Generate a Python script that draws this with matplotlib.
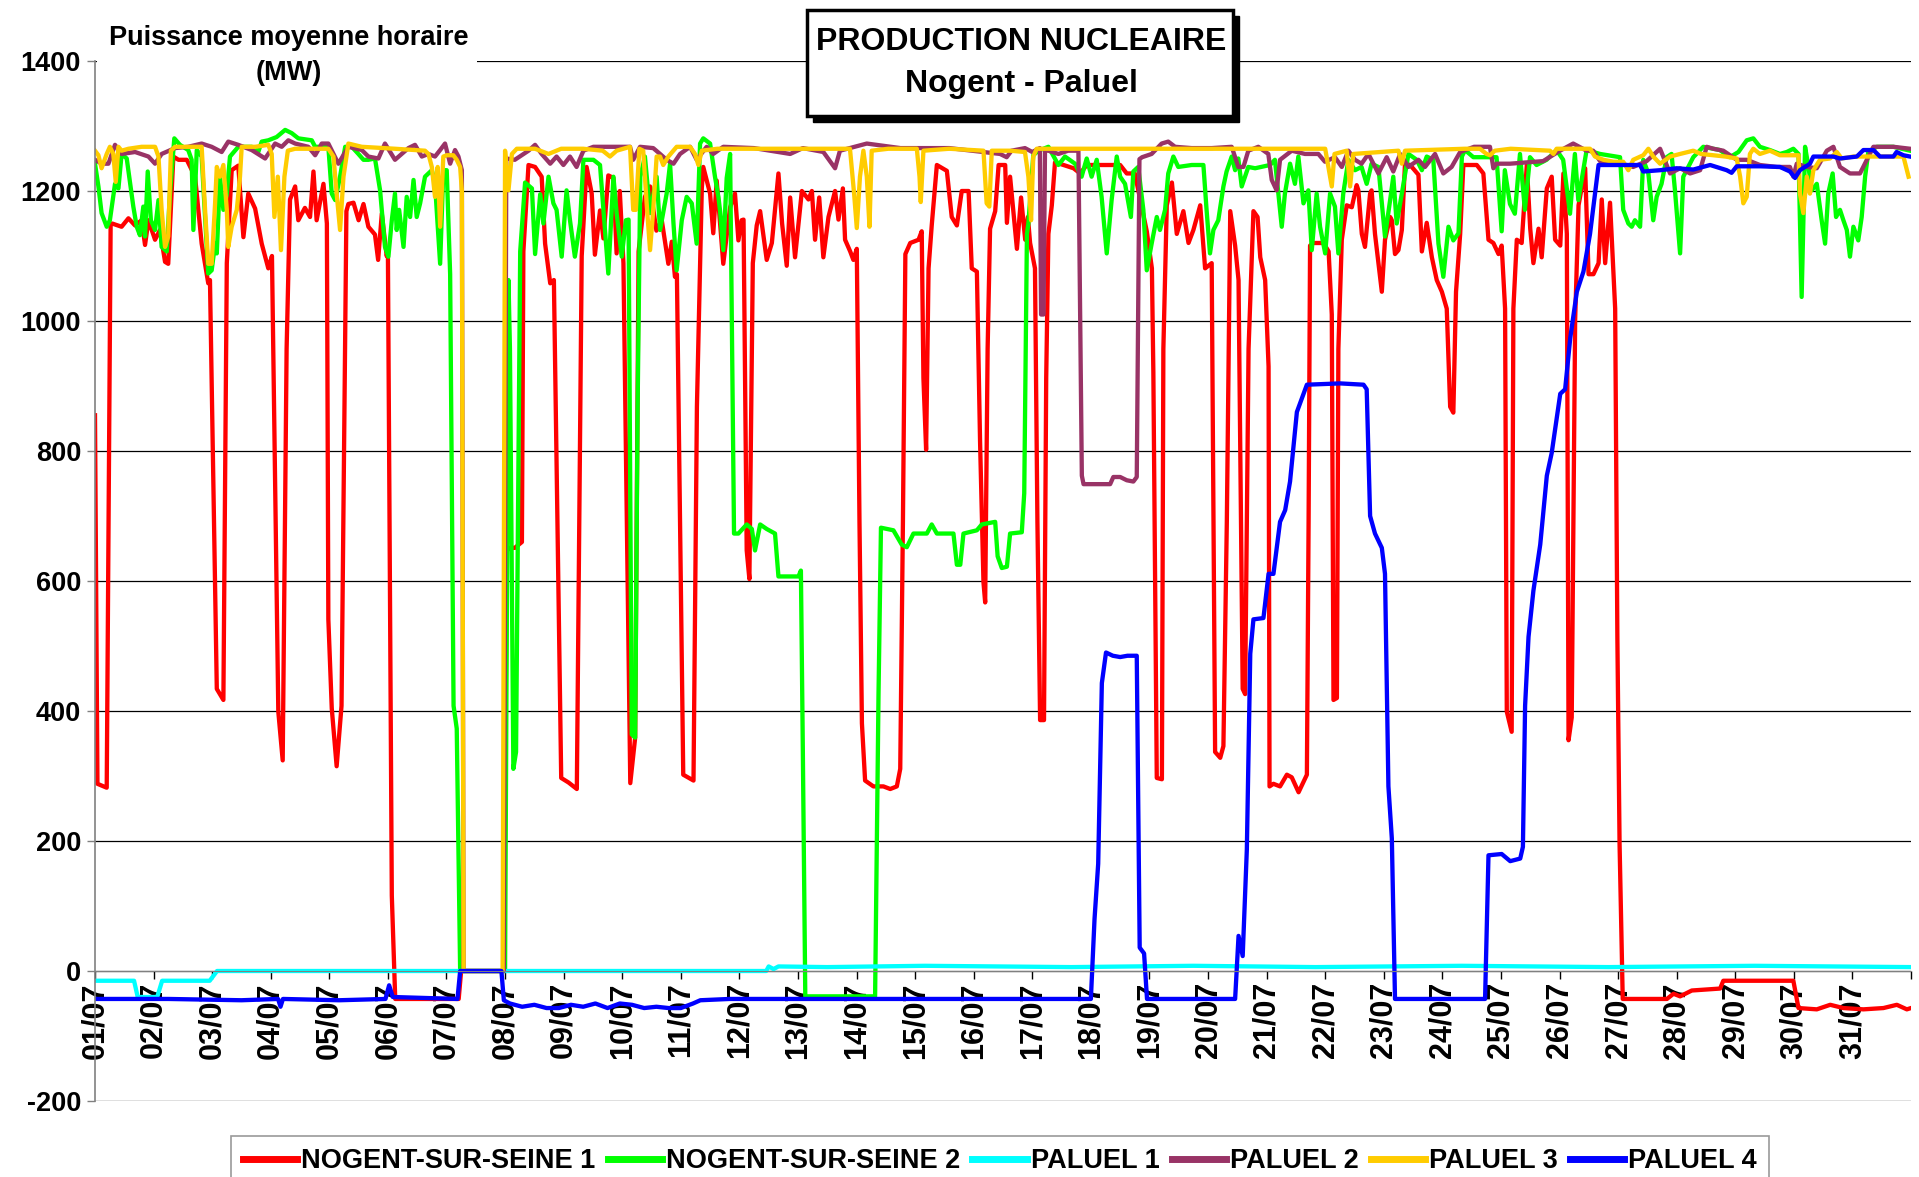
import matplotlib
matplotlib.use("Agg")
import matplotlib.pyplot as plt
from matplotlib.patches import Rectangle
from matplotlib.lines import Line2D

plt.rcParams['font.family'] = ['Liberation Sans', 'DejaVu Sans']
plt.rcParams['font.weight'] = 'bold'

# ---------------- data (hour of month, MW) ----------------
day_labels = ["%02d/07" % d for d in range(1, 32)]
series_names = ["NOGENT-SUR-SEINE 1", "NOGENT-SUR-SEINE 2", "PALUEL 1",
                "PALUEL 2", "PALUEL 3", "PALUEL 4"]
series_colors = ["#FF0000", "#00FF00", "#00FFFF", "#993366", "#FFCC00", "#0000FF"]

n1 = [(0,855),(1,288),(4.8,282),(6.4,1147),(7,1150),(10.9,1145),(13.7,1158),(16.4,1147),(19.1,1155),(20.5,1117),(21.9,1155),(24.6,1125),(26.6,1140),(28.7,1091),(30,1088),(32.1,1253),(34.2,1248),(37.6,1248),(41,1222),(43.7,1119),(46.4,1058),(47.1,1063),(49.9,434),(52.6,417),(54,1089),(56,1232),(58.7,1239),(60.8,1129),(62.8,1196),(65.6,1173),(68.3,1119),(71,1081),(72.5,1100),(75.1,399),(76.9,324),(78.5,957),(79.9,1187),(82,1207),(83.3,1155),(86,1174),(88.1,1160),(89.5,1230),(90.8,1155),(93.6,1211),(95,1150),(95.6,541),(97,404),(99,315),(101,408),(103,1169),(103.8,1180),(105.9,1182),(108,1155),(110,1180),(112,1145),(114.7,1133),(116,1094),(117.5,1165),(119.5,1100),(120,1107),(121.6,116),(123,-43),(149,-43),(150,0),(167.5,0),(168.7,647),(170,651),(172,651),(174.9,660),(175.5,1107),(177.6,1240),(180.3,1237),(183,1222),(184.4,1119),(186.5,1058),(188,1063),(191,297),(194,290),(197.4,280),(199.4,1100),(201.4,1237),(203.5,1196),(204.8,1102),(206.9,1170),(208.3,1127),(210.3,1224),(212.4,1220),(213.7,1104),(215,1200),(216.5,1089),(219.3,289),(221.3,359),(222.7,1107),(225.3,1191),(227.4,1207),(230,1139),(232.2,1155),(234.9,1088),(236.3,1122),(237.6,1068),(238.4,1072),(241,302),(245.2,293),(246.6,868),(248.6,1204),(249.2,1237),(252,1196),(253.3,1135),(254.7,1216),(257.4,1088),(260.2,1175),(262.2,1196),(263.6,1124),(264.9,1155),(265.7,1156),(267,647),(268.1,603),(269.5,1089),(271.1,1147),(272.5,1169),(275.2,1094),(277.3,1120),(280,1227),(281.5,1150),(283.4,1085),(284.8,1190),(286.8,1098),(289.6,1200),(292.3,1187),(293.7,1200),(295,1125),(296.7,1190),(298.4,1098),(300.5,1160),(303.2,1200),(304.6,1156),(306.4,1204),(307.3,1125),(309.4,1107),(310.7,1094),(312.1,1111),(313.2,691),(314.2,381),(315.5,293),(318.9,284),(323,284),(325.8,280),(328.5,284),(329.9,311),(331,691),(332,1103),(334,1120),(337.4,1125),(338.7,1138),(339.4,912),(340.5,802),(341.5,1081),(342.8,1147),(344.9,1240),(349,1231),(351,1160),(353.1,1147),(355.1,1200),(357.9,1200),(359.2,1081),(361.3,1076),(362.6,815),(364,598),(364.7,567),(365.7,957),(366.7,1142),(368.8,1169),(370.2,1240),(372.9,1240),(373.6,1151),(374.9,1222),(377.7,1111),(379.4,1190),(381.1,1125),(382.2,1160),(383.1,1120),(385.1,1081),(386.1,691),(387.2,386),(388.8,386),(389.7,912),(390.6,1134),(392,1178),(393.3,1244),(396.8,1240),(400.9,1235),(403.6,1227),(406.3,1240),(420,1240),(422.7,1227),(426,1227),(430.9,1138),(433,1081),(433.6,921),(435,297),(437.1,295),(437.7,957),(439.1,1178),(441.2,1213),(443.2,1134),(445.9,1169),(448,1120),(450,1140),(452.8,1178),(454.8,1081),(457.5,1089),(458.9,337),(461,328),(462.3,346),(463.7,691),(465.1,1169),(467.1,1116),(468.5,1063),(470.2,434),(471.2,426),(472.6,957),(474.6,1169),(476.3,1160),(477.4,1098),(479.4,1063),(480.8,930),(481.2,284),(482.8,288),(485.5,284),(488.3,302),(490.3,298),(493.1,275),(496.5,302),(497.2,691),(497.8,1116),(499.2,1120),(503.3,1120),(505.4,1107),(506.7,1010),(507.4,417),(508.8,420),(509.4,957),(510.8,1125),(512.8,1178),(514.9,1175),(516.9,1209),(517.6,1201),(519,1134),(520.3,1114),(522.4,1196),(523,1201),(524.4,1134),(527.2,1045),(528.5,1125),(530.6,1160),(531.3,1155),(532.6,1103),(534,1109),(535.4,1140),(536.7,1242),(538.8,1240),(542.2,1225),(543.6,1107),(545.6,1151),(547.7,1098),(549.7,1063),(551.8,1045),(553.8,1019),(555.2,868),(556.5,859),(557.6,1045),(559.3,1134),(560.6,1240),(566.1,1240),(568.8,1227),(570.9,1125),(572.9,1120),(575,1103),(576.3,1116),(577.7,1019),(578.4,399),(580.4,368),(581.1,1019),(582.5,1125),(584.5,1120),(586.6,1240),(588,1142),(589.3,1089),(591.4,1142),(592.7,1098),(594.8,1204),(596.8,1222),(598.2,1125),(600.3,1116),(601.6,1227),(603,1134),(603.7,355),(605,390),(606.4,1001),(607.8,1178),(610.5,1235),(611.9,1072),(613.9,1072),(616,1089),(617.3,1187),(618.7,1089),(620.7,1182),(622.8,1019),(623.7,514),(624.6,196),(625.9,-43),(644,-43),(646.7,-35),(649.4,-39),(654.2,-30),(665.8,-27),(667.1,-15),(695.8,-15),(697.9,-57),(705.4,-59),(710.9,-52),(716.3,-57),(724.5,-59),(732.7,-57),(738.2,-52),(742.3,-59),(744,-57)]

n2 = [(0,1242),(1.4,1207),(2.7,1166),(4.8,1145),(6.1,1155),(8.2,1211),(9.6,1204),(10.9,1257),(13,1250),(15.7,1176),(17.1,1145),(18.4,1132),(19.8,1176),(20.5,1130),(21.6,1230),(22.9,1155),(24.6,1140),(26,1186),(27.3,1114),(29.4,1107),(30.7,1196),(32.5,1281),(34.8,1271),(38.2,1263),(39.6,1248),(40.3,1140),(41.7,1263),(43.7,1253),(45.1,1160),(46.4,1073),(47.8,1078),(49.2,1119),(49.9,1104),(51.2,1222),(52.6,1171),(54,1196),(55.3,1253),(58.7,1268),(64.2,1268),(66.9,1260),(68.3,1276),(71,1278),(74.4,1283),(77.9,1294),(80.6,1289),(83.3,1281),(88.8,1278),(90.2,1268),(95.6,1268),(97,1196),(98.4,1186),(100.4,1222),(102.5,1268),(105.2,1268),(107.9,1257),(110,1248),(112,1248),(114.7,1250),(116.8,1201),(118.8,1114),(120.2,1099),(121.6,1155),(122.9,1196),(123.6,1140),(124.6,1171),(126.4,1114),(127.7,1191),(129.1,1160),(130.5,1217),(131.8,1160),(133.2,1181),(135.2,1222),(136.6,1227),(138,1232),(139.3,1211),(141.4,1088),(142.7,1232),(144.1,1232),(145.5,1072),(146.9,408),(148.2,373),(149.6,0),(168,0),(169.4,1063),(170,957),(171.4,311),(172.5,337),(173.5,780),(174.2,1107),(176.2,1213),(179,1204),(180.3,1103),(182.4,1195),(183.7,1150),(185.8,1222),(187.8,1181),(189.1,1171),(191.2,1099),(193.2,1201),(194.6,1155),(196.6,1099),(198.7,1150),(200.1,1248),(204.2,1248),(206.9,1240),(208.3,1171),(210.3,1073),(212.4,1222),(213.7,1166),(215.8,1099),(217.5,1155),(218.6,1156),(219.9,364),(221.3,359),(222.3,868),(223.4,1222),(225.3,1253),(227.4,1166),(230.1,1222),(231.5,1140),(234.2,1196),(235.6,1242),(237,1150),(238.3,1078),(240.4,1155),(242.4,1191),(244.5,1181),(246.5,1119),(247.9,1273),(249.2,1281),(252,1273),(254,1222),(255.4,1191),(256.1,1169),(257.4,1109),(258.8,1220),(260.2,1257),(261.8,673),(263.6,673),(267,687),(269.1,680),(270.4,647),(272.5,687),(275.2,680),(278.6,673),(280,607),(288.2,607),(289.2,616),(290,337),(291,-39),(319.6,-39),(321,426),(322,682),(327.1,678),(330.5,656),(332.6,652),(335.3,673),(340.8,673),(342.8,687),(344.9,673),(348.3,673),(351.7,673),(353.1,625),(354.5,625),(355.8,673),(361.3,678),(363.3,687),(368.8,691),(369.8,638),(371.5,620),(373.6,622),(374.9,673),(379.7,675),(380.7,735),(381.8,1134),(382.4,1150),(384.4,1255),(386.5,1262),(390.6,1268),(394.7,1240),(397.4,1253),(401.5,1242),(404.2,1222),(406.3,1250),(408.3,1222),(410.4,1248),(412.4,1191),(414.5,1104),(416.5,1186),(418.6,1253),(420,1222),(422,1211),(424.4,1160),(425.4,1230),(427.4,1237),(429.5,1171),(430.9,1078),(432.9,1119),(435,1160),(436.3,1140),(438.4,1171),(439.7,1227),(441.8,1253),(443.8,1237),(449.3,1240),(454.1,1240),(455.4,1171),(456.8,1104),(458.2,1140),(460.2,1155),(462.3,1207),(463.6,1230),(465.7,1253),(467.1,1232),(468.4,1250),(469.8,1207),(472.5,1237),(475.3,1235),(481.4,1240),(483.4,1248),(486.2,1145),(487.5,1196),(489.6,1242),(491.6,1211),(493,1253),(495.1,1181),(497.1,1201),(498.5,1109),(500.5,1196),(501.9,1145),(504,1104),(506,1196),(508,1176),(509.4,1104),(511.4,1196),(513.5,1248),(516.2,1232),(518.9,1237),(521,1211),(523,1242),(525.8,1237),(528.5,1130),(530.6,1186),(531.9,1222),(533.3,1150),(535.4,1196),(538.1,1257),(541.5,1248),(543.6,1232),(545.6,1253),(548.3,1248),(550.4,1119),(552.4,1068),(554.5,1145),(556.5,1124),(558.6,1135),(560,1253),(561.3,1263),(564.7,1252),(570.1,1252),(574.2,1252),(576.3,1138),(577.6,1232),(579.7,1180),(581.7,1165),(583.8,1257),(585.8,1171),(587.9,1252),(590.6,1240),(594.7,1248),(598.8,1263),(601.5,1248),(604.3,1165),(606.3,1257),(607.7,1186),(611.1,1263),(616.6,1257),(624.8,1252),(626.1,1171),(628.2,1150),(629.6,1145),(630.9,1155),(633,1145),(634.3,1248),(636.4,1227),(638.4,1155),(639.8,1191),(641.8,1211),(643.9,1252),(645.9,1257),(647.3,1201),(649.4,1104),(650.7,1222),(654.8,1252),(658.9,1268),(665.7,1263),(669.8,1252),(673.3,1260),(676.7,1278),(679.4,1281),(682.1,1268),(686.2,1263),(690.3,1257),(693.1,1260),(695.8,1265),(697.9,1257),(699.2,1037),(700.6,1268),(702,1237),(703.3,1201),(705.4,1211),(707.4,1155),(708.8,1119),(710.1,1196),(711.9,1227),(713.3,1160),(714.9,1171),(716.3,1155),(717.7,1140),(719,1099),(720.4,1145),(722.4,1124),(723.8,1160),(725.2,1222),(726.5,1260),(730,1268),(736.8,1268),(743.6,1262)]

p1 = [(0,-15),(16,-15),(17.5,-40),(25.5,-40),(27.5,-15),(47,-15),(50,0),(275,0),(276,7),(278,3),(280,7),(300,6),(340,8),(400,6),(450,8),(500,6),(560,8),(620,6),(680,8),(744,6)]

p2 = [(0,1248),(2.7,1242),(5.5,1242),(8.2,1271),(10.9,1257),(16.4,1260),(21.9,1253),(24.6,1242),(27.3,1257),(32.8,1266),(38.2,1268),(43.7,1273),(47.8,1268),(51.9,1260),(54.6,1276),(58.7,1271),(64.2,1263),(69.7,1250),(73.8,1273),(76.5,1268),(79.2,1278),(82,1273),(87.4,1268),(90.2,1255),(92.9,1273),(95.6,1273),(99.7,1242),(103.8,1268),(109.3,1263),(112,1253),(116.1,1250),(118.8,1273),(122.9,1248),(128.4,1266),(131.1,1271),(133.9,1253),(136.6,1257),(139.3,1253),(141.4,1263),(143.4,1273),(145.5,1242),(147.5,1263),(148.9,1253),(150.3,1232),(151,0),(167.5,0),(168.5,1250),(172,1248),(177.6,1262),(180.3,1271),(183,1257),(186.5,1242),(189.1,1253),(191.9,1240),(194.6,1253),(197.3,1237),(200.1,1262),(204.2,1268),(208.3,1268),(219.2,1268),(220.5,1248),(223.3,1268),(228.7,1266),(231.5,1257),(234.2,1248),(237,1242),(239.7,1257),(243.8,1268),(246.5,1248),(250.6,1268),(253.3,1257),(257.4,1268),(270,1266),(284.8,1257),(290,1266),(298.4,1260),(303.2,1235),(305.2,1262),(316.2,1273),(330,1266),(350,1266),(370.8,1257),(373.5,1252),(375.5,1262),(381,1266),(384,1260),(387.1,1266),(387.6,1010),(388.6,1010),(389.2,1262),(390.6,1262),(394.7,1257),(398.7,1262),(402.9,1262),(404.3,762),(405,749),(410.4,749),(415.9,749),(417.2,760),(420,760),(422.7,755),(425.4,753),(426.8,760),(427.9,1249),(429,1252),(432.9,1257),(437,1273),(439.7,1276),(442.5,1268),(449.3,1266),(457.5,1266),(465.7,1268),(468.4,1237),(470.5,1237),(472.5,1262),(476.6,1268),(480.7,1257),(482.1,1217),(484.1,1201),(485.5,1248),(490.3,1262),(495.7,1257),(501.2,1257),(503.9,1245),(508,1252),(510.8,1237),(513.5,1262),(516.2,1248),(518.9,1242),(521.7,1257),(525.8,1227),(529.2,1252),(531.9,1230),(534.7,1257),(538.1,1237),(542.2,1248),(544.9,1237),(549,1257),(552.4,1227),(555.8,1237),(559.3,1260),(565,1268),(571.5,1268),(572.9,1235),(574.2,1242),(579.7,1242),(586.5,1244),(593.3,1246),(600.2,1262),(605.6,1273),(611.1,1262),(613.8,1262),(616.6,1246),(623.4,1244),(630.2,1237),(635.7,1246),(641.2,1265),(645.3,1227),(649.4,1235),(653.5,1227),(657.6,1232),(660.3,1268),(663,1265),(667.1,1262),(672.6,1248),(676.7,1248),(682.1,1240),(689,1237),(694.4,1237),(695.8,1222),(697.2,1242),(701.3,1237),(705.4,1235),(709.5,1262),(712.2,1268),(714.9,1237),(719,1227),(723.1,1227),(725.9,1248),(728.6,1268),(736.8,1268),(743.6,1265)]

p3 = [(0,1262),(1.4,1255),(2.7,1235),(4.8,1257),(6.1,1268),(7.5,1257),(8.5,1214),(9.6,1268),(10.9,1262),(13.7,1265),(19.1,1268),(24.6,1268),(26,1253),(27.3,1171),(28.7,1114),(30,1130),(31.1,1262),(32.8,1268),(41,1268),(43.7,1268),(45.1,1171),(46.4,1088),(47.8,1088),(49.2,1181),(49.9,1237),(51.2,1222),(52.6,1240),(54,1171),(54.6,1114),(56,1145),(58.1,1171),(59.4,1222),(60.1,1268),(65.6,1268),(71,1271),(72.4,1257),(73.5,1160),(74.9,1222),(76.2,1109),(77.6,1222),(79,1262),(82,1265),(95.6,1265),(97.7,1253),(99,1196),(100.4,1140),(101.8,1222),(103.8,1273),(109.3,1268),(122.9,1265),(135.2,1262),(136.6,1257),(138,1237),(139.3,1191),(140.4,1237),(141.4,1145),(142.7,1253),(144.1,1255),(146.8,1255),(148.2,1248),(149.6,1237),(150.3,1200),(151,0),(167,0),(168,1262),(169.4,1201),(170.8,1257),(172.8,1265),(180.3,1265),(185.8,1257),(191,1265),(200,1265),(208,1262),(211,1253),(213.7,1262),(219.2,1268),(220.5,1171),(221.6,1171),(223,1265),(224.6,1262),(226,1181),(227.4,1109),(228.7,1171),(230.1,1253),(231.5,1253),(232.8,1240),(234.9,1253),(238.3,1268),(243.8,1268),(245.8,1257),(247.2,1240),(248.6,1262),(255,1265),(270,1265),(290,1265),(309.3,1265),(311,1196),(312.1,1143),(313.4,1222),(314.8,1262),(316.2,1222),(317.3,1145),(318.2,1262),(325,1265),(336.7,1265),(337.8,1222),(338.3,1183),(339.4,1262),(350,1265),(364,1262),(365.3,1181),(366.4,1176),(367.4,1262),(374.9,1262),(381,1260),(382.4,1222),(383.5,1155),(384.4,1253),(385.8,1265),(400,1265),(430,1265),(470,1265),(504,1265),(506,1222),(506.7,1207),(507.8,1257),(512.8,1262),(514.2,1207),(515.5,1257),(534,1262),(535.4,1242),(536.7,1262),(561.3,1265),(567.4,1265),(570.1,1257),(571.5,1255),(573.5,1262),(580,1265),(596.1,1262),(597.5,1257),(598.8,1265),(612.5,1265),(614.5,1253),(618,1248),(622,1245),(626.1,1245),(628.2,1232),(630.2,1248),(634.3,1255),(636.4,1265),(638.4,1253),(641.2,1242),(645.3,1253),(649.4,1257),(654.8,1262),(658,1257),(663,1255),(668,1253),(672.6,1250),(674,1222),(675.3,1181),(676.7,1191),(678,1257),(679.4,1265),(682.1,1257),(686.2,1262),(690.3,1255),(694,1255),(697.9,1255),(698.5,1196),(699.9,1166),(701.3,1222),(702.6,1196),(704,1232),(706.7,1248),(710.8,1250),(713.6,1260),(715.6,1250),(720.4,1253),(725.9,1253),(731.3,1253),(736.8,1253),(740.9,1253),(743,1222)]

p4 = [(0,-43),(30,-43),(60,-45),(75,-43),(76,-55),(77,-43),(100,-45),(119,-43),(120.5,-22),(122,-40),(148.5,-43),(149.6,0),(166.5,0),(167.5,-45),(170,-50),(175,-55),(180,-52),(185,-57),(190,-57),(195,-52),(200,-55),(205,-50),(210,-57),(215,-50),(220,-52),(225,-57),(230,-55),(235,-57),(240,-57),(245,-50),(248,-45),(260,-43),(300,-43),(350,-43),(408,-43),(409.5,80),(411,165),(412.5,443),(414.2,490),(417,485),(420,483),(423,485),(426.8,485),(428,36),(429.8,27),(431,-43),(467.1,-43),(468.5,54),(470.2,23),(471.9,187),(473.3,488),(474.6,541),(478.7,543),(480.8,611),(482.8,611),(485.5,691),(487.6,709),(489.6,753),(492.4,860),(496.5,902),(510.1,904),(519.7,902),(521,895),(522.4,700),(524.4,673),(527.2,651),(528.5,611),(529.9,284),(531.3,204),(532.6,-43),(569.5,-43),(570.9,178),(576.3,180),(579.8,169),(583.9,173),(585,191),(585.9,408),(587.3,514),(589.3,585),(592.1,656),(594.8,762),(596.8,797),(600.3,888),(602.3,895),(604.4,974),(607.1,1045),(609.8,1076),(612.5,1134),(616,1240),(623.5,1240),(633,1240),(634.3,1230),(641.2,1232),(648,1235),(654.8,1233),(661.7,1240),(668.5,1232),(670.5,1228),(672.6,1238),(682.1,1238),(690.3,1237),(694.4,1230),(696.5,1220),(698.5,1232),(702.6,1242),(704,1253),(712.2,1253),(714.9,1250),(721.8,1253),(724.5,1263),(728.6,1263),(731.3,1253),(736.8,1253),(738.1,1260),(740.9,1255),(743.6,1253)]

all_series = [n1, n2, p1, p2, p3, p4]

y_ticks = [-200, 0, 200, 400, 600, 800, 1000, 1200, 1400]

# ---------------- figure ----------------
W, H = 1919, 1177
fig = plt.figure(figsize=(W / 100, H / 100), dpi=100)
fig.patch.set_facecolor("white")

def fx(px):
    return px / W

def fy(py):
    return 1 - py / H

FS = 19.5

ax_l, ax_r, ax_t, ax_b = 95, 1911, 61, 1101
ax = fig.add_axes([fx(ax_l), fy(ax_b), fx(ax_r - ax_l), (ax_b - ax_t) / H])

# axis position first (this resets tick objects)
ax.spines["bottom"].set_position(("data", 0))
ax.spines["bottom"].set_color("#808080")
ax.spines["top"].set_visible(False)
ax.spines["right"].set_visible(False)
ax.spines["left"].set_color("#808080")
ax.spines["left"].set_linewidth(1.2)

for data, col, name in zip(all_series, series_colors, series_names):
    xs = [p[0] for p in data]
    ys = [p[1] for p in data]
    ax.plot(xs, ys, color=col, lw=3.1, label=name, solid_joinstyle="round")

ax.set_xlim(0, 744)
ax.set_ylim(-200, 1400)
ax.set_yticks(y_ticks)
ax.set_yticklabels([str(v) for v in y_ticks], fontsize=FS, fontweight="bold")
for v in y_ticks:
    ax.axhline(v, color="black", lw=0.9, zorder=0.5)

xt = list(range(0, 745, 24))
ax.set_xticks(xt)
ax.set_xticklabels(day_labels + [""], rotation=90, fontsize=22, fontweight="bold")
ax.tick_params(axis="x", direction="out", length=6, width=1, color="black", pad=2)
ax.tick_params(axis="y", direction="out", length=6, width=1, color="#808080", pad=4)

# white block behind the unit label (hides the 1400 gridline)
fig.add_artist(Rectangle((fx(97), fy(95)), fx(380), 80 / H, transform=fig.transFigure,
                         facecolor="white", edgecolor="none", zorder=5))
fig.text(fx(289), fy(38), "Puissance moyenne horaire", ha="center", va="center",
         fontsize=FS, fontweight="bold", zorder=6)
fig.text(fx(289), fy(73), "(MW)", ha="center", va="center",
         fontsize=FS, fontweight="bold", zorder=6)

# title box with shadow
bx0, by0, bx1, by1 = 807, 10, 1233, 116
fig.add_artist(Rectangle((fx(bx0 + 6), fy(by1 + 6)), fx(bx1 - bx0), (by1 - by0) / H,
                         transform=fig.transFigure, facecolor="black", edgecolor="black", zorder=7))
fig.add_artist(Rectangle((fx(bx0), fy(by1)), fx(bx1 - bx0), (by1 - by0) / H,
                         transform=fig.transFigure, facecolor="white", edgecolor="black",
                         lw=2.5, zorder=8))
fig.text(fx(1021), fy(42), "PRODUCTION NUCLEAIRE", ha="center", va="center",
         fontsize=23, fontweight="bold", zorder=9)
fig.text(fx(1021), fy(84), "Nogent - Paluel", ha="center", va="center",
         fontsize=23, fontweight="bold", zorder=9)

# legend
handles = [Line2D([0], [0], color=c, lw=5) for c in series_colors]
leg = fig.legend(handles, series_names, loc="upper center", ncol=6,
                 bbox_to_anchor=(fx(1000), fy(1136)), frameon=True, fancybox=False,
                 prop={"size": FS, "weight": "bold"}, handlelength=2.0,
                 handletextpad=0.15, columnspacing=0.45, borderpad=0.45, borderaxespad=0)
leg.get_frame().set_edgecolor("#808080")
leg.get_frame().set_linewidth(1.2)

fig.savefig("out.png", dpi=100)
